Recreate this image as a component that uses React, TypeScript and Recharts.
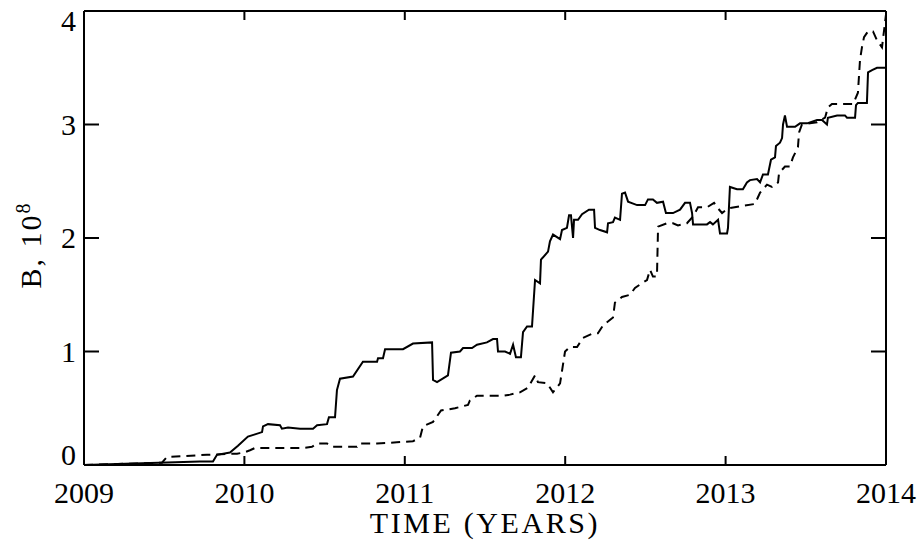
import React from "react";
import { LineChart, Line, XAxis, YAxis, ReferenceLine } from "recharts";

// time in years, B in units of 1e8
const solidLine: [number, number][] = [
  [2009.0, 0], [2009.723, 0.03], [2009.804, 0.03], [2009.829, 0.09], [2009.91, 0.11],
  [2009.96, 0.17], [2010.022, 0.25], [2010.066, 0.27], [2010.11, 0.29], [2010.116, 0.34],
  [2010.147, 0.36], [2010.222, 0.35], [2010.234, 0.32], [2010.272, 0.33], [2010.347, 0.32],
  [2010.428, 0.32], [2010.453, 0.35], [2010.515, 0.36], [2010.527, 0.42], [2010.565, 0.42],
  [2010.577, 0.66], [2010.596, 0.76], [2010.677, 0.78], [2010.739, 0.91], [2010.827, 0.91],
  [2010.833, 0.94], [2010.864, 0.94], [2010.877, 1.02], [2010.989, 1.02], [2011.051, 1.07],
  [2011.17, 1.08], [2011.176, 0.75], [2011.201, 0.73], [2011.269, 0.79], [2011.288, 0.99],
  [2011.344, 1.0], [2011.363, 1.03], [2011.419, 1.03], [2011.45, 1.06], [2011.512, 1.08],
  [2011.55, 1.11], [2011.575, 1.11], [2011.581, 1.0], [2011.625, 1.0], [2011.656, 0.98],
  [2011.675, 1.06], [2011.693, 0.95], [2011.724, 0.95], [2011.737, 1.17], [2011.762, 1.22],
  [2011.793, 1.22], [2011.812, 1.63], [2011.843, 1.6], [2011.849, 1.81], [2011.862, 1.83],
  [2011.893, 1.88], [2011.905, 1.97], [2011.924, 2.03], [2011.968, 1.99], [2011.98, 2.07],
  [2012.011, 2.09], [2012.024, 2.2], [2012.036, 2.2], [2012.049, 2.0], [2012.055, 2.16],
  [2012.08, 2.16], [2012.105, 2.21], [2012.148, 2.25], [2012.18, 2.25], [2012.186, 2.09],
  [2012.217, 2.07], [2012.261, 2.05], [2012.267, 2.13], [2012.298, 2.14], [2012.31, 2.18],
  [2012.342, 2.16], [2012.354, 2.39], [2012.373, 2.4], [2012.392, 2.32], [2012.448, 2.29],
  [2012.498, 2.29], [2012.516, 2.34], [2012.547, 2.34], [2012.572, 2.31], [2012.61, 2.32],
  [2012.628, 2.22], [2012.672, 2.22], [2012.716, 2.25], [2012.747, 2.31], [2012.778, 2.31],
  [2012.791, 2.22], [2012.797, 2.12], [2012.884, 2.12], [2012.903, 2.14], [2012.921, 2.12],
  [2012.953, 2.16], [2012.965, 2.04], [2013.009, 2.04], [2013.015, 2.09], [2013.027, 2.45],
  [2013.071, 2.43], [2013.108, 2.43], [2013.133, 2.49], [2013.152, 2.51], [2013.196, 2.52],
  [2013.215, 2.49], [2013.233, 2.56], [2013.264, 2.56], [2013.283, 2.69], [2013.308, 2.71],
  [2013.314, 2.81], [2013.339, 2.84], [2013.352, 2.88], [2013.358, 3.0], [2013.37, 3.08],
  [2013.383, 2.98], [2013.433, 2.98], [2013.464, 3.01], [2013.508, 3.01], [2013.57, 3.04],
  [2013.601, 3.04], [2013.632, 3.0], [2013.638, 3.06], [2013.695, 3.08], [2013.744, 3.08],
  [2013.757, 3.06], [2013.807, 3.06], [2013.813, 3.17], [2013.825, 3.19], [2013.881, 3.19],
  [2013.888, 3.46], [2013.913, 3.48], [2013.944, 3.5], [2014.0, 3.5],
];

const dashedLine: [number, number][] = [
  [2009.0, 0], [2009.486, 0.02], [2009.517, 0.07], [2009.767, 0.09], [2009.954, 0.1],
  [2009.998, 0.11], [2010.035, 0.13], [2010.066, 0.15], [2010.365, 0.15], [2010.421, 0.16],
  [2010.453, 0.19], [2010.515, 0.19], [2010.546, 0.16], [2010.702, 0.16], [2010.714, 0.19],
  [2010.827, 0.19], [2010.951, 0.2], [2011.051, 0.21], [2011.095, 0.24], [2011.113, 0.34],
  [2011.176, 0.38], [2011.226, 0.48], [2011.313, 0.5], [2011.394, 0.53], [2011.406, 0.57],
  [2011.45, 0.61], [2011.612, 0.61], [2011.656, 0.62], [2011.718, 0.64], [2011.768, 0.68],
  [2011.812, 0.79], [2011.83, 0.73], [2011.887, 0.72], [2011.924, 0.64], [2011.968, 0.72],
  [2011.999, 1.0], [2012.03, 1.04], [2012.074, 1.04], [2012.111, 1.12], [2012.173, 1.16],
  [2012.204, 1.16], [2012.236, 1.23], [2012.298, 1.3], [2012.31, 1.43], [2012.354, 1.48],
  [2012.404, 1.5], [2012.435, 1.56], [2012.466, 1.59], [2012.51, 1.63], [2012.529, 1.72],
  [2012.547, 1.66], [2012.572, 1.66], [2012.579, 2.1], [2012.635, 2.13], [2012.672, 2.13],
  [2012.703, 2.11], [2012.759, 2.13], [2012.797, 2.19], [2012.828, 2.27], [2012.884, 2.27],
  [2012.928, 2.31], [2012.953, 2.26], [2012.978, 2.22], [2013.015, 2.26], [2013.09, 2.28],
  [2013.183, 2.3], [2013.215, 2.4], [2013.258, 2.47], [2013.289, 2.45], [2013.327, 2.49],
  [2013.333, 2.57], [2013.37, 2.63], [2013.401, 2.63], [2013.42, 2.71], [2013.451, 2.8],
  [2013.458, 2.93], [2013.476, 3.0], [2013.526, 3.01], [2013.57, 3.02], [2013.62, 3.06],
  [2013.638, 3.15], [2013.663, 3.18], [2013.794, 3.18], [2013.807, 3.22], [2013.825, 3.28],
  [2013.838, 3.57], [2013.85, 3.68], [2013.863, 3.77], [2013.888, 3.82], [2013.919, 3.82],
  [2013.944, 3.74], [2013.975, 3.68], [2013.988, 3.83], [2014.0, 3.97],
];

const yearTicks = [2009, 2010, 2011, 2012, 2013, 2014];
const bTicks = [0, 1, 2, 3, 4];
const xDomain: [number, number] = [2009, 2014];
const yDomain: [number, number] = [0, 4];

const FONT = "'Liberation Serif', 'Times New Roman', serif";
const axisStyle = { stroke: "#000", strokeWidth: 2 };
const CHART_H = 540;
const TOP = 11;
const X_AXIS_H = 75;
const PLOT_H = CHART_H - X_AXIS_H - TOP;
// 9px inward year ticks, expressed in B units
const yearTickLen = ((yDomain[1] - yDomain[0]) * 9) / PLOT_H;

const toRows = (pts: [number, number][]) => pts.map(([t, v]) => ({ t, v }));

// short vertical strokes at the bottom and top edge for every year, split by nulls
const yearTickRows = yearTicks.flatMap((t) => [
  { t, v: yDomain[0] },
  { t, v: yDomain[0] + yearTickLen },
  { t, v: null },
  { t, v: yDomain[1] - yearTickLen },
  { t, v: yDomain[1] },
  { t, v: null },
]);

function YearTick({ x, y, payload }: any) {
  return (
    <text x={x} y={Number(y) + 38} textAnchor="middle" fontFamily={FONT} fontSize={30} fill="#000">
      {payload.value}
    </text>
  );
}

function BTick({ x, y, payload }: any) {
  // top and bottom labels are pushed inside the frame
  const v = payload.value;
  const dy = v === 4 ? 20 : v === 0 ? 0 : 10;
  return (
    <text x={Number(x) - 8} y={Number(y) + dy} textAnchor="end" fontFamily={FONT} fontSize={30} fill="#000">
      {v}
    </text>
  );
}

// inward ticks on the left and right frame edges
function TickMarks({ x1, x2, y1 }: any) {
  const left = Math.min(Number(x1), Number(x2));
  const right = Math.max(Number(x1), Number(x2));
  const yy = Number(y1);
  return (
    <g stroke="#000" strokeWidth={2} fill="none">
      <line x1={left} y1={yy} x2={left + 15} y2={yy} />
      <line x1={right} y1={yy} x2={right - 15} y2={yy} />
    </g>
  );
}

function BLabel({ viewBox }: any) {
  const cx = viewBox.x + 41;
  const cy = viewBox.y + viewBox.height / 2 + 7;
  return (
    <text
      x={cx}
      y={cy}
      transform={`rotate(-90, ${cx}, ${cy})`}
      textAnchor="middle"
      fontFamily={FONT}
      fontSize={30}
      letterSpacing={2}
      fill="#000"
    >
      B, 10<tspan dy={-11} fontSize={20}>8</tspan>
    </text>
  );
}

export default function App() {
  return (
    <div style={{ position: "absolute", left: 0, top: 0, background: "#fff" }}>
      <LineChart width={921} height={CHART_H} margin={{ top: TOP, right: 35, left: 0, bottom: 0 }}>
        <XAxis
          dataKey="t"
          type="number"
          domain={xDomain}
          ticks={yearTicks}
          allowDataOverflow
          height={X_AXIS_H}
          axisLine={axisStyle}
          tickLine={false}
          tickSize={0}
          tickMargin={0}
          tick={<YearTick />}
          label={{
            value: "TIME (YEARS)",
            position: "insideBottom",
            offset: 7,
            style: { fontFamily: FONT, fontSize: 30, letterSpacing: 2.6, fill: "#000" },
          }}
        />
        <YAxis
          type="number"
          domain={yDomain}
          ticks={bTicks}
          allowDataOverflow
          width={84}
          axisLine={axisStyle}
          tickLine={false}
          tickSize={0}
          tickMargin={0}
          tick={<BTick />}
          label={{ content: (p: any) => <BLabel {...p} /> }}
        />
        {bTicks
          .filter((b) => b > yDomain[0] && b < yDomain[1])
          .map((b) => (
            <ReferenceLine key={`y${b}`} y={b} shape={(p: any) => <TickMarks {...p} />} />
          ))}
        <ReferenceLine y={4} stroke="#000" strokeWidth={2} />
        <ReferenceLine x={2014} stroke="#000" strokeWidth={2} />
        <Line
          data={yearTickRows}
          dataKey="v"
          type="linear"
          stroke="#000"
          strokeWidth={2}
          dot={false}
          activeDot={false}
          connectNulls={false}
          legendType="none"
          isAnimationActive={false}
        />
        <Line
          data={toRows(solidLine)}
          dataKey="v"
          type="linear"
          stroke="#000"
          strokeWidth={2}
          dot={false}
          activeDot={false}
          isAnimationActive={false}
        />
        <Line
          data={toRows(dashedLine)}
          dataKey="v"
          type="linear"
          stroke="#000"
          strokeWidth={2}
          strokeDasharray="9 6"
          dot={false}
          activeDot={false}
          isAnimationActive={false}
        />
      </LineChart>
    </div>
  );
}
